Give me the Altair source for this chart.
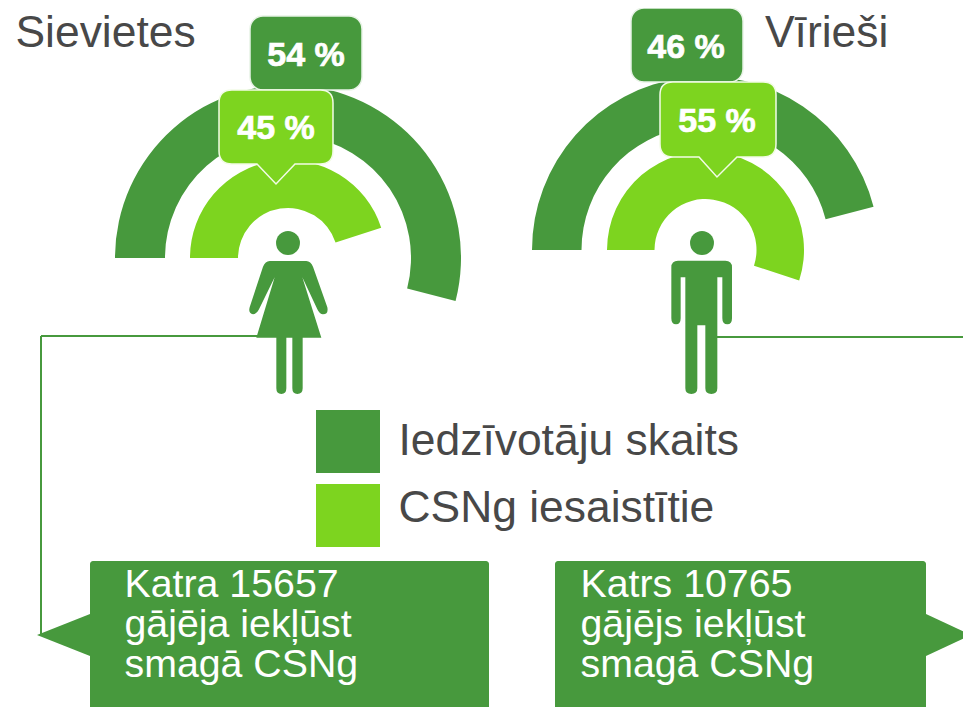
import math
import altair as alt
import pandas as pd

GROUPS = ["Sievietes", "Vīrieši"]
POPULATION_PCT = [54, 46]
INVOLVED_PCT = [45, 55]
LEGEND = ["Iedzīvotāju skaits", "CSNg iesaistītie"]
NOTE_F = ["Katra 15657", "gājēja iekļūst", "smagā CSNg"]
NOTE_M = ["Katrs 10765", "gājējs iekļūst", "smagā CSNg"]

DARK = "#47993D"
LIGHT = "#7DD41F"
GREY = "#484848"
FONT = "Liberation Sans"
OFF = 8


def px(v):
    return v - OFF


def txt(s, x, y, size, color="white", bold=False, align="left"):
    kw = dict(stroke="white", strokeWidth=0.7) if bold else {}
    return alt.Chart(pd.DataFrame({"t": [s]})).mark_text(
        font=FONT, fontSize=size, color=color, align=align, baseline="alphabetic",
        fontWeight="bold" if bold else "normal", **kw,
    ).encode(x=alt.value(px(x)), y=alt.value(px(y)), text="t:N")


def shape(path, x, y, fill=DARK, scale=1.0, stroke=None, sw=0):
    kw = dict(stroke=stroke, strokeWidth=sw) if stroke else dict(strokeWidth=0)
    return alt.Chart(pd.DataFrame({"k": [0]})).mark_point(
        shape=path, filled=True, fill=fill, opacity=1, size=4 * scale * scale, **kw
    ).encode(x=alt.value(px(x)), y=alt.value(px(y)))


def arc(value, cx, cy, r, r2, color):
    df = pd.DataFrame({"a": [0], "b": [value]})
    return alt.Chart(df).mark_arc(radius=r, radius2=r2, color=color).encode(
        theta=alt.Theta("a:Q", scale=alt.Scale(domain=[0, 100], range=[-math.pi / 2, 3 * math.pi / 2])),
        theta2="b:Q",
        x=alt.value(px(cx)),
        y=alt.value(px(cy)),
    )


def box(x0, y0, x1, y1, color, radius=13, stroke=None):
    kw = dict(stroke=stroke, strokeWidth=1.5) if stroke else {}
    return alt.Chart(pd.DataFrame({"k": [0]})).mark_rect(
        color=color, cornerRadius=radius, **kw
    ).encode(
        x=alt.value(px(x0)), x2=alt.value(px(x1)),
        y=alt.value(px(y0)), y2=alt.value(px(y1)),
    )


def bubble(w, h, r, t0, tip, t1, tiph):
    return (
        f"M {r} 0 L {w-r} 0 Q {w} 0 {w} {r} L {w} {h-r} Q {w} {h} {w-r} {h} "
        f"L {t1} {h} L {tip} {tiph} L {t0} {h} L {r} {h} Q 0 {h} 0 {h-r} L 0 {r} Q 0 0 {r} 0 Z"
    )


def rule(x0, y0, x1, y1):
    return alt.Chart(pd.DataFrame({"k": [0]})).mark_rule(color=DARK, strokeWidth=2).encode(
        x=alt.value(px(x0)), x2=alt.value(px(x1)),
        y=alt.value(px(y0)), y2=alt.value(px(y1)),
    )


WOMAN = ("M -55 123 L 55 123 Q 68 124 75 140 L 118 262 Q 122 283 105 283 Q 95 283 88 268 L 43 172 "
         "L 100 353 L 44 353 L 44 505 Q 44 522 28 522 Q 13 522 13 505 L 13 353 L -5 353 L -5 505 "
         "Q -5 522 -20 522 Q -35 522 -35 505 L -35 353 L -95 353 L -40 172 L -87 268 Q -95 283 -105 283 "
         "Q -120 280 -115 262 L -75 140 Q -68 124 -55 123 Z")
MAN = ("M -72 122 L 70 122 Q 90 122 90 142 L 90 295 Q 90 313 76 313 Q 61 313 61 295 L 61 172 L 46 172 "
       "L 46 505 Q 46 522 28 522 Q 10 522 10 505 L 10 316 L -14 316 L -14 505 Q -14 522 -32 522 "
       "Q -50 522 -50 505 L -50 172 L -64 172 L -64 295 Q -64 313 -78 313 Q -92 313 -92 295 L -92 142 "
       "Q -92 122 -72 122 Z")
TAIL_L = "M 0 -21 L -53 0 L 0 21 Z"
TAIL_R = "M 0 -21 L 45 0 L 0 21 Z"


def head(x, y):
    return alt.Chart(pd.DataFrame({"k": [0]})).mark_circle(color=DARK, opacity=1, size=math.pi * 13.5 ** 2).encode(
        x=alt.value(px(x)), y=alt.value(px(y))
    )


layers = [
    # connectors
    rule(41, 336, 262, 336),
    rule(41, 336, 41, 635),
    rule(715, 337, 971, 337),
    # women
    arc(POPULATION_PCT[0], 288, 258, 173, 123, DARK),
    box(250, 16, 362, 90, DARK, stroke="#E8F3E6"),
    arc(INVOLVED_PCT[0], 288, 258, 98, 50, LIGHT),
    shape(bubble(114, 74, 13, 38, 57, 76, 94), 219, 90, fill=LIGHT, stroke="#F2FBE6", sw=1.5),
    txt(f"{POPULATION_PCT[0]} %", 306, 66, 34, bold=True, align="center"),
    txt(f"{INVOLVED_PCT[0]} %", 276, 139, 34, bold=True, align="center"),
    head(288, 243),
    shape(WOMAN, 288, 220, scale=1 / 3),
    # men
    arc(POPULATION_PCT[1], 705.5, 250, 173.5, 124, DARK),
    box(631, 8, 743, 82, DARK, stroke="#E8F3E6"),
    arc(INVOLVED_PCT[1], 705.5, 250, 98.5, 51, LIGHT),
    shape(bubble(116, 75, 13, 39, 57, 77, 95), 660, 82, fill=LIGHT, stroke="#F2FBE6", sw=1.5),
    txt(f"{POPULATION_PCT[1]} %", 686, 58, 34, bold=True, align="center"),
    txt(f"{INVOLVED_PCT[1]} %", 717, 132, 34, bold=True, align="center"),
    head(702, 243),
    shape(MAN, 702, 220, scale=1 / 3),
    # titles
    txt(GROUPS[0], 15.5, 47, 44.4, color=GREY),
    txt(GROUPS[1], 765, 47, 44.4, color=GREY),
    # legend
    box(316, 410, 380, 473, DARK, radius=0),
    box(316, 484, 380, 547, LIGHT, radius=0),
    txt(LEGEND[0], 398.5, 455, 44.4, color=GREY),
    txt(LEGEND[1], 398.5, 522, 44.4, color=GREY),
    # notes
    box(90, 561, 489, 720, DARK, radius=3),
    shape(TAIL_L, 90, 635),
    box(555, 561, 926, 720, DARK, radius=3),
    shape(TAIL_R, 926, 635),
]
for i, line in enumerate(NOTE_F):
    layers.append(txt(line, 124.5, 597 + 40 * i, 39.3))
for i, line in enumerate(NOTE_M):
    layers.append(txt(line, 580.5, 597 + 40 * i, 39.3))

chart = alt.layer(*layers).properties(
    width=955, height=699, padding=0, background="white",
    autosize=alt.AutoSizeParams(type="none"),
).configure_view(stroke=None)

chart.save("out.html", embed_options={"renderer": "svg", "actions": False})
